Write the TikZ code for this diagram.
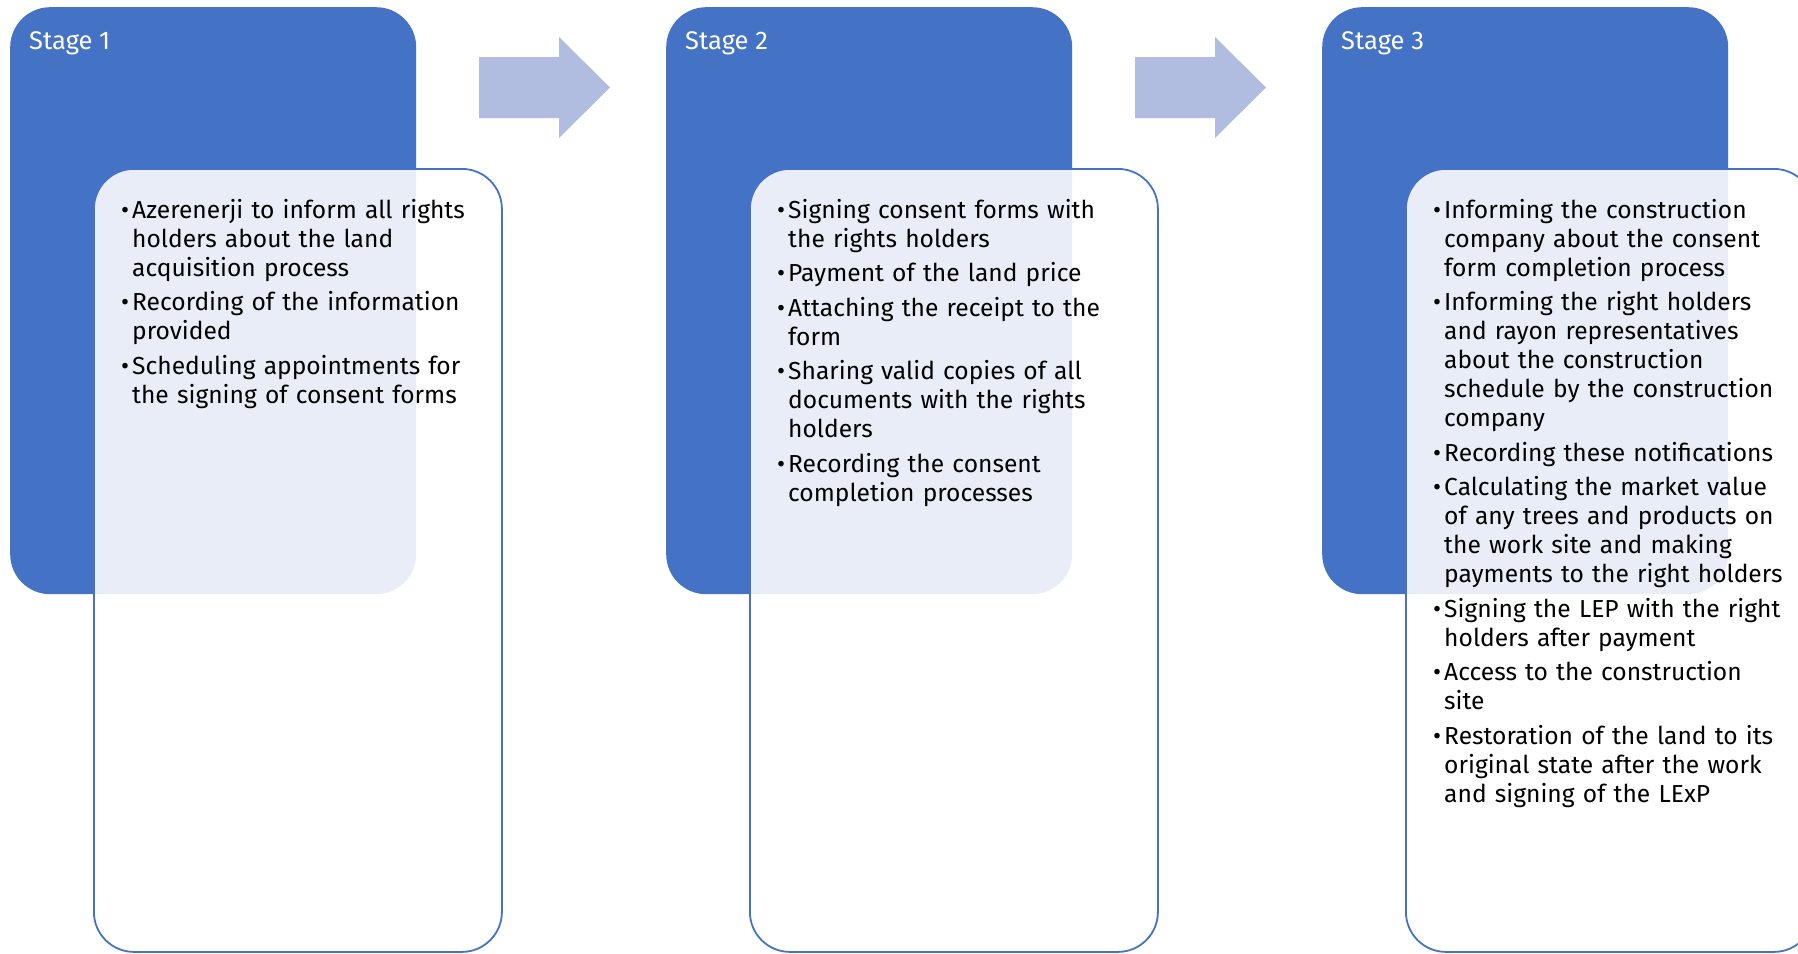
\documentclass[tikz,border=0pt]{standalone}
\usepackage{fontspec}
\setmainfont{Fira Sans}
\usepackage{xcolor}
\usepackage{tikz}

\definecolor{stageblue}{HTML}{4472C4}
\definecolor{arrowblue}{HTML}{B0BDE0}
\newcommand\bitem[1]{\noindent\hangindent=11pt\hangafter=1\makebox[11pt][l]{\textbullet}#1\par\addvspace{5.5pt}}

\begin{document}
\begin{tikzpicture}[x=1pt,y=-1pt,
  stagebox/.style={fill=stageblue, rounded corners=40pt, minimum width=406pt, minimum height=587pt, inner sep=0pt, anchor=north west},
  listbox/.style={fill=white, fill opacity=0.88, draw=stageblue, line width=1.8pt, rounded corners=40pt, minimum width=408pt, minimum height=783pt, inner sep=0pt, anchor=north west},
  stagetitle/.style={text=white, font=\fontsize{25.5}{28}\selectfont, inner sep=0pt, anchor=base west},
  bullets/.style={text width=440pt, align=left, font=\fontsize{24.6}{29}\selectfont, inner sep=0pt, anchor=base west}]
			\useasboundingbox (0,0) rectangle (1798,953);
			\clip (0,0) rectangle (1798,953);
			% Stage 1
			\node[stagebox] (s1) at (10,7) {};
			\node[stagetitle] (t1) at ([shift={(19,42)}]s1.north west) {Stage 1};
			\node[listbox] (w1) at (93,168) {};
			\node[bullets] (l1) at ([shift={(28,50)}]w1.north west) {%
				\bitem{Azerenerji to inform all rights\newline holders about the land\newline acquisition process}
				\bitem{Recording of the information\newline provided}
				\bitem{Scheduling appointments for\newline the signing of consent forms}};
			% Stage 2
			\node[stagebox] (s2) at (666,7) {};
			\node[stagetitle] (t2) at ([shift={(19,42)}]s2.north west) {Stage 2};
			\node[listbox] (w2) at (749,168) {};
			\node[bullets] (l2) at ([shift={(28,50)}]w2.north west) {%
				\bitem{Signing consent forms with\newline the rights holders}
				\bitem{Payment of the land price}
				\bitem{Attaching the receipt to the\newline form}
				\bitem{Sharing valid copies of all\newline documents with the rights\newline holders}
				\bitem{Recording the consent\newline completion processes}};
			% Stage 3
			\node[stagebox] (s3) at (1322,7) {};
			\node[stagetitle] (t3) at ([shift={(19,42)}]s3.north west) {Stage 3};
			\node[listbox] (w3) at (1405,168) {};
			\node[bullets] (l3) at ([shift={(28,50)}]w3.north west) {%
				\bitem{Informing the construction\newline company about the consent\newline form completion process}
				\bitem{Informing the right holders\newline and rayon representatives\newline about the construction\newline schedule by the construction\newline company}
				\bitem{Recording these notifications}
				\bitem{Calculating the market value\newline of any trees and products on\newline the work site and making\newline payments to the right holders}
				\bitem{Signing the LEP with the right\newline holders after payment}
				\bitem{Access to the construction\newline site}
				\bitem{Restoration of the land to its\newline original state after the work\newline and signing of the LExP}};
			% Pfeile
			\foreach \dx in {0,656}
			\fill[arrowblue] (479+\dx,57) -- (559+\dx,57) -- (559+\dx,37) -- (610+\dx,87.5) -- (559+\dx,138) -- (559+\dx,118) -- (479+\dx,118) -- cycle;
\end{tikzpicture}
\end{document}
